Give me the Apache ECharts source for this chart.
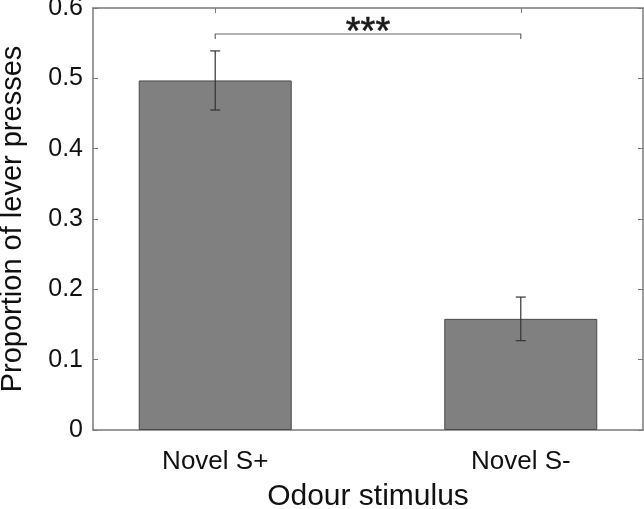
<!DOCTYPE html>
<html>
<head>
<meta charset="utf-8">
<script src="https://cdn.jsdelivr.net/npm/echarts@6/dist/echarts.min.js"></script>
<style>
html,body{margin:0;padding:0;background:#fff;}
#chart{width:644px;height:509px;}
</style>
</head>
<body>
<div id="chart"></div>
<script>
// ---- data ----
var categories = ['Novel S+', 'Novel S-'];
var positions = [1, 2];
var means = [0.497, 0.158];
var errLow = [0.455, 0.127];
var errHigh = [0.539, 0.189];
var sigPair = [1, 2];
var sigLevel = 0.563;
var sigLabel = '***';

var FONT = '"Liberation Sans", Arial, Helvetica, sans-serif';
var AXIS_COLOR = '#7a7a7a';

var barData = positions.map(function (p, i) { return [p, means[i]]; });
var errData = positions.map(function (p, i) { return [p, errLow[i], errHigh[i]]; });

var chart = echarts.init(document.getElementById('chart'), null, {renderer: 'canvas'});

var option = {
  backgroundColor: '#fff',
  animation: false,
  grid: {left: 93, right: 1, top: 8, bottom: 79, containLabel: false, outerBoundsMode: 'none'},
  xAxis: [{
    type: 'value', min: 0.6, max: 2.4, position: 'bottom',
    name: 'Odour stimulus', nameLocation: 'middle', nameGap: 52,
    nameTextStyle: {fontFamily: FONT, fontSize: 30, color: '#111'},
    axisLine: {show: true, onZero: false, lineStyle: {color: AXIS_COLOR, width: 1.5}},
    axisTick: {show: true, inside: true, length: 5, customValues: positions, lineStyle: {color: AXIS_COLOR}},
    axisLabel: {
      show: true, customValues: positions, margin: 19,
      fontFamily: FONT, fontSize: 26, color: '#111',
      formatter: function (v) { var i = positions.indexOf(Math.round(v)); return i >= 0 ? categories[i] : ''; }
    },
    splitLine: {show: false}
  }, {
    type: 'value', min: 0.6, max: 2.4, position: 'top',
    axisLine: {show: true, onZero: false, lineStyle: {color: AXIS_COLOR, width: 1.5}},
    axisTick: {show: true, inside: true, length: 5, customValues: positions, lineStyle: {color: AXIS_COLOR}},
    axisLabel: {show: false},
    splitLine: {show: false}
  }],
  yAxis: [{
    type: 'value', min: 0, max: 0.6, interval: 0.1, position: 'left',
    name: 'Proportion of lever presses', nameLocation: 'middle', nameGap: 66,
    nameTextStyle: {fontFamily: FONT, fontSize: 29, color: '#111'},
    axisLine: {show: true, onZero: false, lineStyle: {color: AXIS_COLOR, width: 1.5}},
    axisTick: {show: true, inside: true, length: 5, lineStyle: {color: AXIS_COLOR}},
    axisLabel: {show: true, margin: 10, fontFamily: FONT, fontSize: 25, color: '#111',
      formatter: function (v) { return String(Math.round(v * 10) / 10); }},
    splitLine: {show: false}
  }, {
    type: 'value', min: 0, max: 0.6, interval: 0.1, position: 'right',
    axisLine: {show: true, onZero: false, lineStyle: {color: AXIS_COLOR, width: 1.5}},
    axisTick: {show: true, inside: true, length: 5, lineStyle: {color: AXIS_COLOR}},
    axisLabel: {show: false},
    splitLine: {show: false}
  }],
  series: [{
    type: 'bar',
    xAxisIndex: 0, yAxisIndex: 0,
    data: barData,
    barWidth: 153,
    itemStyle: {color: '#808080', borderColor: '#4a4a4a', borderWidth: 1},
    z: 2
  }, {
    type: 'custom',
    xAxisIndex: 0, yAxisIndex: 0,
    data: errData,
    z: 3,
    renderItem: function (params, api) {
      var x = api.value(0);
      var lo = api.coord([x, api.value(1)]);
      var hi = api.coord([x, api.value(2)]);
      var cap = 5;
      var st = {stroke: '#333', lineWidth: 1.2, fill: null};
      return {type: 'group', children: [
        {type: 'line', shape: {x1: hi[0], y1: hi[1], x2: lo[0], y2: lo[1]}, style: st},
        {type: 'line', shape: {x1: hi[0] - cap, y1: hi[1], x2: hi[0] + cap, y2: hi[1]}, style: st},
        {type: 'line', shape: {x1: lo[0] - cap, y1: lo[1], x2: lo[0] + cap, y2: lo[1]}, style: st}
      ]};
    }
  }, {
    type: 'custom',
    xAxisIndex: 0, yAxisIndex: 0,
    data: [[sigPair[0], sigPair[1], sigLevel]],
    z: 4,
    renderItem: function (params, api) {
      var a = api.coord([api.value(0), api.value(2)]);
      var b = api.coord([api.value(1), api.value(2)]);
      var drop = 5;
      var st = {stroke: '#666', lineWidth: 1.2, fill: null};
      return {type: 'group', children: [
        {type: 'polyline', shape: {points: [[a[0], a[1] + drop], [a[0], a[1]], [b[0], b[1]], [b[0], b[1] + drop]]}, style: st},
        {type: 'text', x: (a[0] + b[0]) / 2, y: a[1] + 18,
          style: {text: sigLabel, fontFamily: FONT, fontSize: 38, fill: '#1a1a1a', align: 'center', verticalAlign: 'bottom',
            stroke: '#1a1a1a', lineWidth: 0.6}}
      ]};
    }
  }]
};
chart.setOption(option);
</script>
</body>
</html>
